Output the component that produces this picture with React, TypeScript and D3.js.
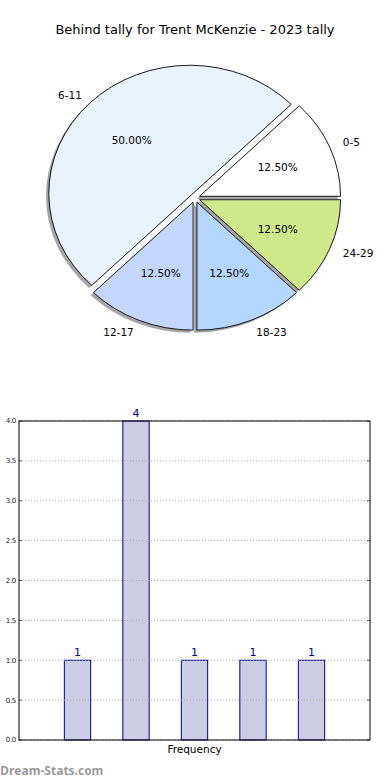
import * as d3 from "d3";

const groups = ["0-5", "6-11", "12-17", "18-23", "24-29"];
const counts = [1, 4, 1, 1, 1];
const sliceColors = ["#ffffff", "#eaf1ff", "#c4d8ff", "#b5d6ff", "#cfe98a"];
const explode = [0.035, 0.035, 0.035, 0.035, 0.035];
const yTicks = [0, 0.5, 1, 1.5, 2, 2.5, 3, 3.5, 4];
const title = "Behind tally for Trent McKenzie - 2023 tally";

const W = 390;
const H = 780;
const font = "DejaVu Sans, sans-serif";

export default function App() {
  // pie (matplotlib style, elliptical because the axes aren't equal)
  const cx = 195;
  const cy = 198;
  const rx = 141;
  const ry = 128;

  // d3 angles: 0 at 12 o'clock clockwise; start at 3 o'clock going counter-clockwise
  const pie = d3
    .pie<number>()
    .sort(null)
    .startAngle(Math.PI / 2)
    .endAngle(Math.PI / 2 - 2 * Math.PI);
  const arcs = pie(counts);
  const arc = d3.arc<d3.PieArcDatum<number>>().innerRadius(0).outerRadius(1);
  const total = d3.sum(counts);

  const slices = arcs.map((a, i) => {
    const mid = Math.PI / 2 - (a.startAngle + a.endAngle) / 2; // math angle
    const ox = cx + explode[i] * rx * Math.cos(mid);
    const oy = cy - explode[i] * ry * Math.sin(mid);
    return { a, i, mid, ox, oy };
  });

  // bar chart
  const left = 19;
  const right = 370;
  const top = 421;
  const bottom = 740;
  const x = d3.scaleLinear().domain([0, 6]).range([left, right]);
  const y = d3.scaleLinear().domain([0, 4]).range([bottom, top]);
  const barW = 0.45;

  return (
    <svg
      width={W}
      height={H}
      style={{ position: "absolute", left: 0, top: 0, background: "#fff" }}
      fontFamily={font}
    >
      <text x={195} y={34} textAnchor="middle" fontSize={13} fill="#000">
        {title}
      </text>

      {/* shadows go underneath */}
      {slices.map((s) => (
        <path
          key={"sh" + s.i}
          d={arc(s.a) || ""}
          transform={`translate(${s.ox - 2.8},${s.oy + 2.6}) scale(${rx},${ry})`}
          fill="#4d4d4d"
          opacity={0.5}
        />
      ))}
      {slices.map((s) => (
        <path
          key={"w" + s.i}
          d={arc(s.a) || ""}
          transform={`translate(${s.ox},${s.oy}) scale(${rx},${ry})`}
          fill={sliceColors[s.i]}
          stroke="#000"
          strokeWidth={0.9}
          vectorEffect="non-scaling-stroke"
        />
      ))}
      {slices.map((s) => {
        const lx = s.ox + 1.1 * rx * Math.cos(s.mid);
        const ly = s.oy - 1.1 * ry * Math.sin(s.mid);
        const px = s.ox + 0.6 * rx * Math.cos(s.mid);
        const py = s.oy - 0.6 * ry * Math.sin(s.mid);
        const anchor = Math.cos(s.mid) > 0 ? "start" : "end";
        return (
          <g key={"t" + s.i} fontSize={10.5} fill="#000">
            <text x={lx} y={ly} dy="0.35em" textAnchor={anchor}>
              {groups[s.i]}
            </text>
            <text x={px} y={py} dy="0.35em" textAnchor="middle">
              {((counts[s.i] / total) * 100).toFixed(2) + "%"}
            </text>
          </g>
        );
      })}

      {/* bar chart */}
      {counts.map((c, i) => (
        <g key={"b" + i}>
          <rect
            x={x(i + 1 - barW / 2)}
            y={y(c)}
            width={x(barW) - x(0)}
            height={y(0) - y(c)}
            fill="#ccccE5"
            stroke="#00008b"
            strokeWidth={1}
          />
          <text
            x={x(i + 1)}
            y={y(c) - 4}
            textAnchor="middle"
            fontSize={11}
            fill="#00008b"
          >
            {c}
          </text>
        </g>
      ))}
      {yTicks.map((t) => (
        <g key={"g" + t}>
          <line
            x1={left}
            x2={right}
            y1={y(t)}
            y2={y(t)}
            stroke="#aaaaaa"
            strokeWidth={1}
            strokeDasharray="1,2"
          />
          <line x1={left} x2={left + 3} y1={y(t)} y2={y(t)} stroke="#000" strokeWidth={0.6} />
          <line x1={right - 3} x2={right} y1={y(t)} y2={y(t)} stroke="#000" strokeWidth={0.6} />
          <text
            x={left - 3}
            y={y(t)}
            dy="0.35em"
            textAnchor="end"
            fontSize={7}
            fill="#222"
            letterSpacing={-0.3}
          >
            {t.toFixed(1)}
          </text>
        </g>
      ))}
      <rect
        x={left}
        y={top}
        width={right - left}
        height={bottom - top}
        fill="none"
        stroke="#000"
        strokeWidth={1}
      />
      <text x={(left + right) / 2} y={753} textAnchor="middle" fontSize={10.5} fill="#000">
        Frequency
      </text>
      <text x={0} y={775} fontSize={12} fontWeight="bold" fill="#9a9a9a" fontFamily="Open Sans, sans-serif">
        Dream-Stats.com
      </text>
    </svg>
  );
}
